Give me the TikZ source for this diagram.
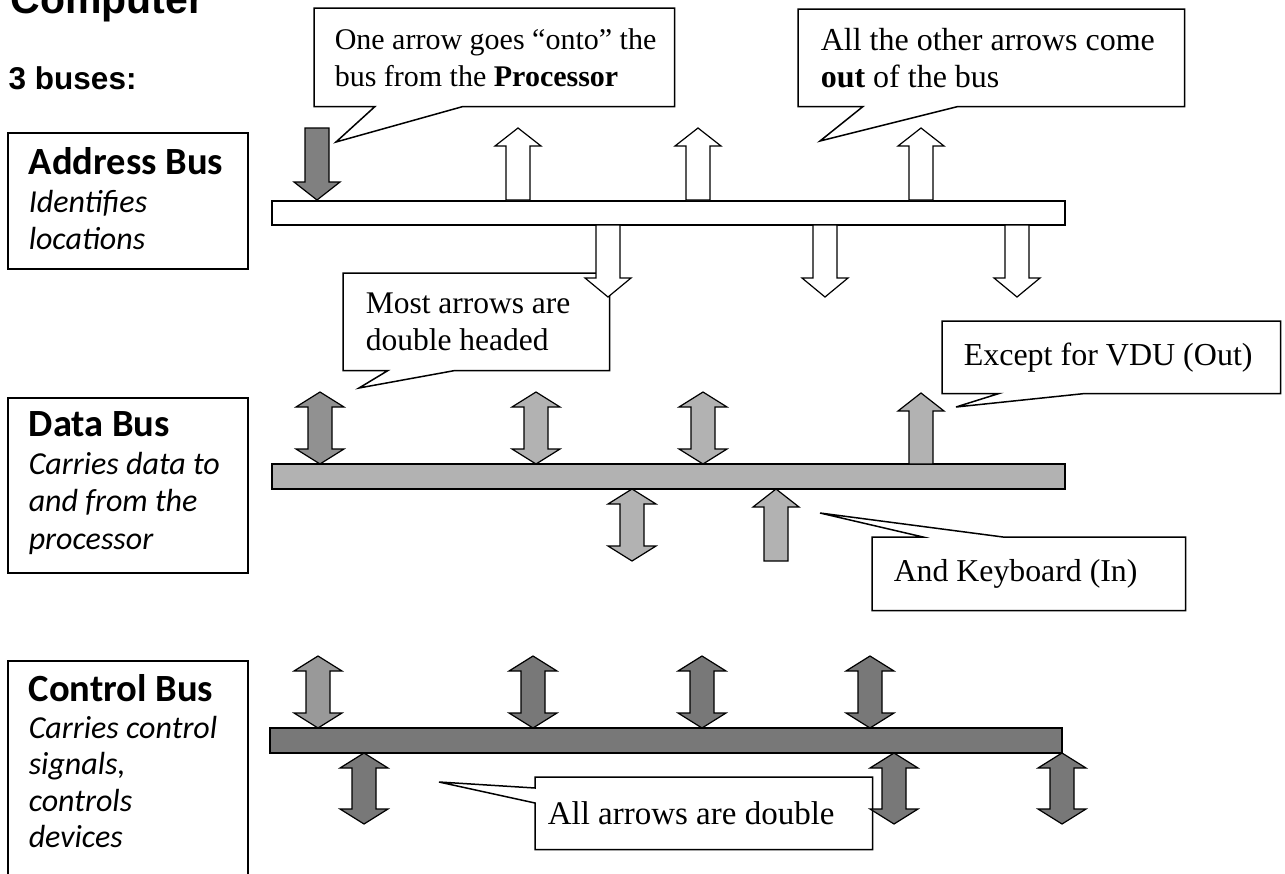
\documentclass[tikz,border=0pt]{standalone}
\usepackage{fontspec}
\setmainfont{Liberation Serif}
\newfontfamily\labelfont{Carlito}
\newfontfamily\headfont{Liberation Sans}

\definecolor{procgray}{gray}{0.5}
\definecolor{datagray}{gray}{0.7}
\definecolor{datadark}{gray}{0.57}
\definecolor{ctrlgray}{gray}{0.47}
\definecolor{ctrllight}{gray}{0.6}

\newcommand{\busname}[1]{{\upshape\bfseries\fontsize{38.5}{37.5}\selectfont #1}}
% x, tip y, foot y, head length, fill
\newcommand{\busup}[5]{\filldraw [line width=1.2pt,fill=#5] (#1,#2) -- (#1+23,#2+#4) -- (#1+12,#2+#4) -- (#1+12,#3) -- (#1-12,#3) -- (#1-12,#2+#4) -- (#1-23,#2+#4) -- cycle;}
\newcommand{\busdown}[5]{\filldraw [line width=1.2pt,fill=#5] (#1,#2) -- (#1+23,#2-#4) -- (#1+12,#2-#4) -- (#1+12,#3) -- (#1-12,#3) -- (#1-12,#2-#4) -- (#1-23,#2-#4) -- cycle;}
% x, top tip, bottom tip, fill
\newcommand{\busboth}[4]{\filldraw [line width=1.2pt,fill=#4] (#1,#2) -- (#1+24,#2+15) -- (#1+12,#2+15) -- (#1+12,#3-15) -- (#1+24,#3-15) -- (#1,#3) -- (#1-24,#3-15) -- (#1-12,#3-15) -- (#1-12,#2+15) -- (#1-24,#2+15) -- cycle;}

\begin{document}
\begin{tikzpicture}[x=1pt,y=-1pt,line width=1.5pt]
\tikzstyle{every node}+=[inner sep=0pt]
\tikzstyle{frame}=[draw,anchor=north west,minimum width=240pt]
\tikzstyle{blurb}=[anchor=north west,align=left,font=\labelfont\itshape\fontsize{32}{37.5}\selectfont]
\tikzstyle{callout}=[anchor=north west]
\tikzstyle{saying}=[anchor=west,align=left,font=\fontsize{31}{36.5}\selectfont]
\useasboundingbox (0,0) rectangle (1285,873);
\clip (0,0) rectangle (1285,873);

\node (title) [anchor=base west,font=\headfont\bfseries\fontsize{41}{44}\selectfont] at (10,13) {Computer};
\node (count) [anchor=base west,font=\headfont\bfseries\fontsize{31.5}{36}\selectfont] at (8,89) {3 buses:};

\node (addrbox) [frame,minimum height=136pt] at (7,132) {};
\node (addrtext) [blurb] at (28,147) {\busname{Address Bus}\\Identifies\\locations};
\node (databox) [frame,minimum height=175pt] at (7,397) {};
\node (datatext) [blurb] at (28,411) {\busname{Data Bus}\\Carries data to\\and from the\\processor};
\node (ctrlbox) [frame,minimum height=240pt] at (7,660) {};
\node (ctrltext) [blurb,font=\labelfont\itshape\fontsize{32}{36.5}\selectfont] at (28,674) {\busname{Control Bus}\\Carries control\\signals,\\controls\\devices};

\draw [black,fill=white,line width=2pt] (272,201) rectangle (1065,225);
\draw [black,fill=datagray,line width=2pt] (272,464) rectangle (1065,489);
\draw [black,fill=ctrlgray,line width=2pt] (270,728) rectangle (1062,753);

\coordinate (ontotip) at (336,142);
\node (onto) [callout,minimum width=359pt,minimum height=97pt] at (314,8) {};
\filldraw [fill=white] (onto.south west) -- (onto.north west) -- (onto.north east) -- (onto.south east) -- ([xshift=149pt]onto.south west) -- (ontotip) -- ([xshift=61pt]onto.south west) -- cycle;
\node (ontotext) [saying,font=\fontsize{30}{37}\selectfont] at ([xshift=20pt]onto.west) {One arrow goes “onto” the\\bus from the \textbf{Processor}};

\coordinate (outtip) at (820,141);
\node (out) [callout,minimum width=385pt,minimum height=96pt] at (798,9) {};
\filldraw [fill=white] (out.south west) -- (out.north west) -- (out.north east) -- (out.south east) -- ([xshift=160pt]out.south west) -- (outtip) -- ([xshift=65pt]out.south west) -- cycle;
\node (outtext) [saying,font=\fontsize{32}{37}\selectfont] at ([xshift=22pt]out.west) {All the other arrows come\\\textbf{out} of the bus};

\coordinate (mosttip) at (359,388);
\node (most) [callout,minimum width=265pt,minimum height=96pt] at (343,273) {};
\filldraw [fill=white] (most.south west) -- (most.north west) -- (most.north east) -- (most.south east) -- ([xshift=112pt]most.south west) -- (mosttip) -- ([xshift=45pt]most.south west) -- cycle;
\node (mosttext) [saying,font=\fontsize{31.5}{36.5}\selectfont] at ([xshift=22pt]most.west) {Most arrows are\\double headed};

\coordinate (vdutip) at (956,407);
\node (vdu) [callout,minimum width=337pt,minimum height=71pt] at (942,321) {};
\filldraw [fill=white] (vdu.south west) -- (vdu.north west) -- (vdu.north east) -- (vdu.south east) -- ([xshift=143pt]vdu.south west) -- (vdutip) -- ([xshift=57pt]vdu.south west) -- cycle;
\node (vdutext) [saying,font=\fontsize{32}{36.5}\selectfont] at ([xshift=21pt]vdu.west) {Except for VDU (Out)};

\coordinate (kbdtip) at (820,513);
\node (kbd) [callout,minimum width=312pt,minimum height=72pt] at (872,537) {};
\filldraw [fill=white] (kbd.north west) -- ([xshift=51pt]kbd.north west) -- (kbdtip) -- ([xshift=131pt]kbd.north west) -- (kbd.north east) -- (kbd.south east) -- (kbd.south west) -- cycle;
\node (kbdtext) [saying,font=\fontsize{31.8}{36.5}\selectfont] at ([xshift=21pt]kbd.west) {And Keyboard (In)};

\coordinate (dbltip) at (439,782);
\node (dbl) [callout,minimum width=336pt,minimum height=71pt] at (535,777) {};
\filldraw [fill=white] (dbl.north west) -- (dbl.north east) -- (dbl.south east) -- (dbl.south west) -- ([yshift=-26pt]dbl.north west) -- (dbltip) -- ([yshift=-11pt]dbl.north west) -- cycle;
\node (dbltext) [saying,font=\fontsize{33}{36.5}\selectfont] at ([xshift=12pt]dbl.west) {All arrows are double};

\busdown{317}{200}{128}{18}{procgray}
\busup{518}{128}{200}{18}{white}
\busup{698}{128}{200}{18}{white}
\busup{921}{128}{200}{18}{white}
\busdown{608}{297}{225}{19}{white}
\busdown{825}{297}{225}{19}{white}
\busdown{1017}{297}{225}{19}{white}

\busboth{320}{392}{464}{datadark}
\busboth{536}{392}{464}{datagray}
\busboth{703}{392}{464}{datagray}
\busup{921}{393}{464}{18}{datagray}
\busboth{632}{489}{561}{datagray}
\busup{776}{489}{561}{18}{datagray}

\busboth{318}{656}{728}{ctrllight}
\busboth{533}{656}{728}{ctrlgray}
\busboth{702}{656}{728}{ctrlgray}
\busboth{870}{656}{728}{ctrlgray}
\busboth{364}{753}{824}{ctrlgray}
\busboth{894}{753}{824}{ctrlgray}
\busboth{1062}{753}{824}{ctrlgray}
\end{tikzpicture}
\end{document}
